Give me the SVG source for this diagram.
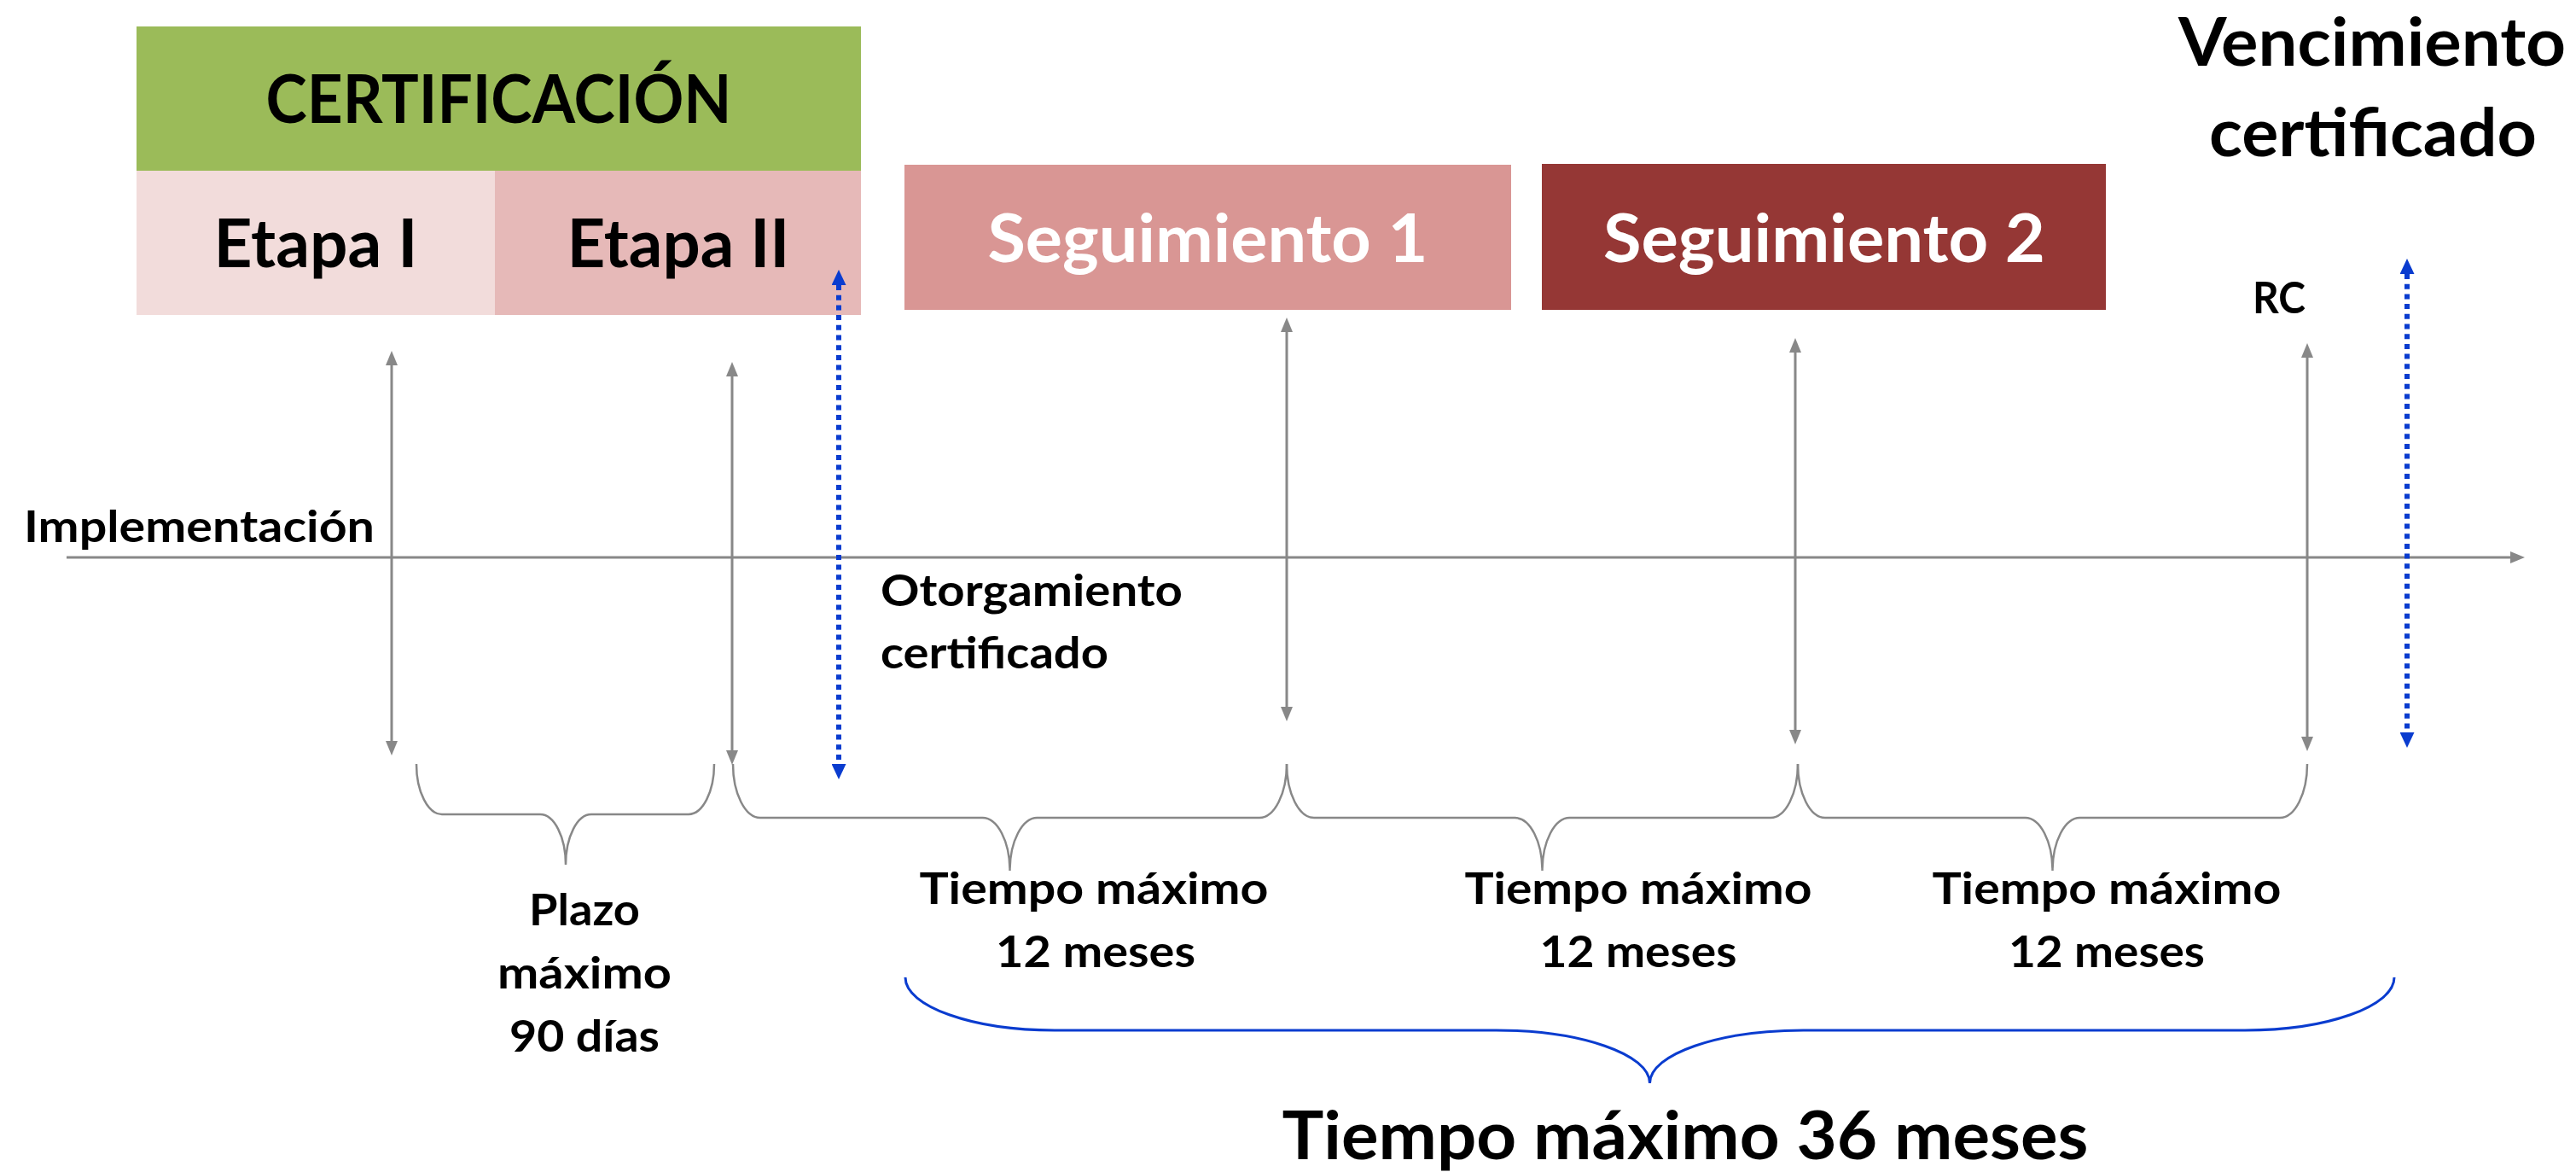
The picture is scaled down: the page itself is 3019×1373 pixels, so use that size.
<svg xmlns="http://www.w3.org/2000/svg" width="3019" height="1373" viewBox="0 0 3019 1373">
<defs>
<style>
.t{font-family:Lato,"Open Sans","Liberation Sans",sans-serif;font-weight:700;fill:#000}
.big{font-size:78px}
.lab{font-size:52px}
.w{fill:#fff}
.g{stroke:#888;stroke-width:3;fill:none}
.br{stroke:#888;stroke-width:2.5;fill:none}
.bl{stroke:#0a3ccf;stroke-width:6;fill:none;stroke-dasharray:6 5.7}
.bb{stroke:#0a3ccf;stroke-width:3;fill:none}
</style>
<marker id="ag" markerUnits="userSpaceOnUse" markerWidth="17" markerHeight="14" refX="0" refY="7" orient="auto-start-reverse">
<path d="M0,0 L17,7 L0,14 z" fill="#888"/>
</marker>
<marker id="ab" markerUnits="userSpaceOnUse" markerWidth="18" markerHeight="17" refX="0" refY="8.5" orient="auto-start-reverse">
<path d="M0,0 L18,8.5 L0,17 z" fill="#0a3ccf"/>
</marker>
</defs>
<rect width="3019" height="1373" fill="#fff"/>

<g id="certificacion">
<rect x="160" y="31" width="849" height="170" fill="#9bbb59"/>
<text class="t big" x="584.5" y="144" text-anchor="middle" textLength="546" lengthAdjust="spacingAndGlyphs">CERTIFICACIÓN</text>
</g>
<g id="etapa1">
<rect x="160" y="200" width="420" height="169" fill="#f2dcdb"/>
<text class="t big" x="370" y="313" text-anchor="middle" textLength="239" lengthAdjust="spacingAndGlyphs">Etapa I</text>
</g>
<g id="etapa2">
<rect x="580" y="200" width="429" height="169" fill="#e6b9b8"/>
<text class="t big" x="795" y="313" text-anchor="middle" textLength="261" lengthAdjust="spacingAndGlyphs">Etapa II</text>
</g>
<g id="seguimiento1">
<rect x="1060" y="193" width="711" height="170" fill="#d99694"/>
<text class="t big w" x="1415.5" y="307" text-anchor="middle" textLength="516" lengthAdjust="spacingAndGlyphs">Seguimiento 1</text>
</g>
<g id="seguimiento2">
<rect x="1807" y="192" width="661" height="171" fill="#953735"/>
<text class="t big w" x="2138" y="307" text-anchor="middle" textLength="518" lengthAdjust="spacingAndGlyphs">Seguimiento 2</text>
</g>
<g id="vencimiento">
<text class="t big" x="2780" y="77" text-anchor="middle" textLength="454" lengthAdjust="spacingAndGlyphs">Vencimiento</text>
<text class="t big" x="2781" y="183" text-anchor="middle" textLength="384" lengthAdjust="spacingAndGlyphs">certificado</text>
</g>
<g id="rc">
<text class="t lab" x="2640" y="367" textLength="62" lengthAdjust="spacingAndGlyphs">RC</text>
</g>
<g id="implementacion">
<text class="t lab" x="28" y="635" textLength="411" lengthAdjust="spacingAndGlyphs">Implementación</text>
</g>
<g id="otorgamiento">
<text class="t lab" x="1032" y="710" textLength="354" lengthAdjust="spacingAndGlyphs">Otorgamiento</text>
<text class="t lab" x="1032" y="783" textLength="267" lengthAdjust="spacingAndGlyphs">certificado</text>
</g>
<g id="plazo">
<text class="t lab" x="685" y="1084" text-anchor="middle" textLength="130" lengthAdjust="spacingAndGlyphs">Plazo</text>
<text class="t lab" x="685" y="1158" text-anchor="middle" textLength="204" lengthAdjust="spacingAndGlyphs">máximo</text>
<text class="t lab" x="685" y="1232" text-anchor="middle" textLength="176" lengthAdjust="spacingAndGlyphs">90 días</text>
</g>
<g id="tiempo1">
<text class="t lab" x="1282" y="1059" text-anchor="middle" textLength="409" lengthAdjust="spacingAndGlyphs">Tiempo máximo</text>
<text class="t lab" x="1284" y="1133" text-anchor="middle" textLength="234" lengthAdjust="spacingAndGlyphs">12 meses</text>
</g>
<g id="tiempo2">
<text class="t lab" x="1920" y="1059" text-anchor="middle" textLength="407" lengthAdjust="spacingAndGlyphs">Tiempo máximo</text>
<text class="t lab" x="1920" y="1133" text-anchor="middle" textLength="231" lengthAdjust="spacingAndGlyphs">12 meses</text>
</g>
<g id="tiempo3">
<text class="t lab" x="2469" y="1059" text-anchor="middle" textLength="409" lengthAdjust="spacingAndGlyphs">Tiempo máximo</text>
<text class="t lab" x="2469" y="1133" text-anchor="middle" textLength="230" lengthAdjust="spacingAndGlyphs">12 meses</text>
</g>
<g id="tiempo36">
<text class="t big" x="1975" y="1358" text-anchor="middle" textLength="945" lengthAdjust="spacingAndGlyphs">Tiempo máximo 36 meses</text>
</g>

<g id="connectors">
<line id="axis" class="g" x1="78" y1="653" x2="2942" y2="653" marker-end="url(#ag)"/>
<line class="g" x1="459" y1="428" x2="459" y2="868" marker-start="url(#ag)" marker-end="url(#ag)"/>
<line class="g" x1="858" y1="441" x2="858" y2="879" marker-start="url(#ag)" marker-end="url(#ag)"/>
<line class="g" x1="1508" y1="389" x2="1508" y2="828" marker-start="url(#ag)" marker-end="url(#ag)"/>
<line class="g" x1="2104" y1="413" x2="2104" y2="855" marker-start="url(#ag)" marker-end="url(#ag)"/>
<line class="g" x1="2704" y1="419" x2="2704" y2="863" marker-start="url(#ag)" marker-end="url(#ag)"/>
<line class="bl" x1="983" y1="334" x2="983" y2="895" marker-start="url(#ab)" marker-end="url(#ab)"/>
<line class="bl" x1="2821" y1="321" x2="2821" y2="858" marker-start="url(#ab)" marker-end="url(#ab)"/>
<path class="br" d="M488,895 C488,927.5 501.5,954 518,954 L633,954 C649.5,954 663,980.5 663,1013 C663,980.5 676.5,954 693,954 L807,954 C823.5,954 837,927.5 837,895"/>
<path class="br" d="M859,895 C859,929.6 873.4,958 891,958 L1151.5,958 C1169.1,958 1183.5,985.9 1183.5,1020 C1183.5,985.9 1197.9,958 1215.5,958 L1476,958 C1493.6,958 1508,929.6 1508,895"/>
<path class="br" d="M1508,895 C1508,929.6 1522.4,958 1540,958 L1775.5,958 C1793.1,958 1807.5,985.9 1807.5,1020 C1807.5,985.9 1821.9,958 1839.5,958 L2075,958 C2092.6,958 2107,929.6 2107,895"/>
<path class="br" d="M2107,895 C2107,929.6 2121.4,958 2139,958 L2373.5,958 C2391.1,958 2405.5,985.9 2405.5,1020 C2405.5,985.9 2419.9,958 2437.5,958 L2672,958 C2689.6,958 2704,929.6 2704,895"/>
<path class="bb" d="M1061,1145 C1061,1179.1 1139.75,1207 1236,1207 L1753.5,1207 C1852.5,1207 1933.5,1234.9 1933.5,1269 C1933.5,1234.9 2014.5,1207 2113.5,1207 L2631,1207 C2727.25,1207 2806,1179.1 2806,1145"/>
</g>
</svg>
